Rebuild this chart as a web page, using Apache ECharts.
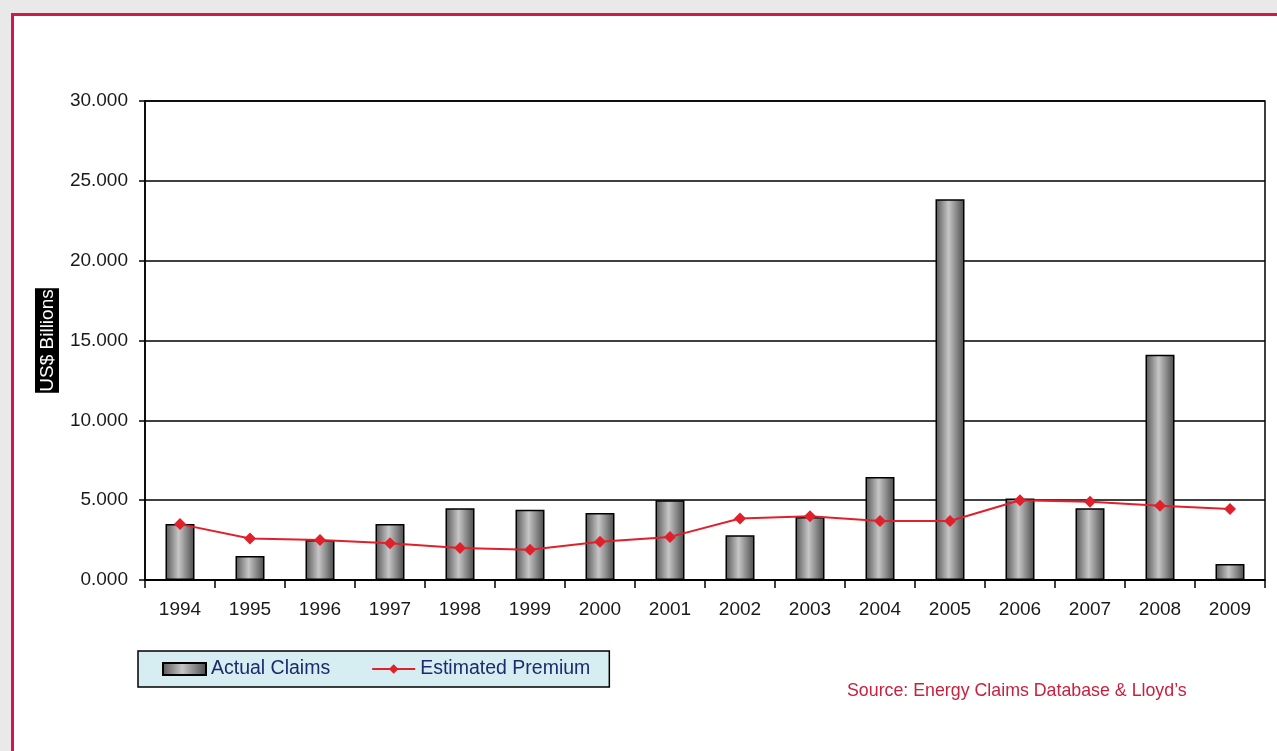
<!DOCTYPE html>
<html>
<head>
<meta charset="utf-8">
<style>
html,body{margin:0;padding:0;background:#e9e9e9;}
#chart{width:1277px;height:751px;}
</style>
<script src="https://cdn.jsdelivr.net/npm/echarts@6/dist/echarts.min.js"></script>
</head>
<body>
<div id="chart"></div>
<script>
const categories = ['1994','1995','1996','1997','1998','1999','2000','2001','2002','2003','2004','2005','2006','2007','2008','2009'];
const actualClaims = [3.5, 1.5, 2.5, 3.5, 4.5, 4.4, 4.2, 5.0, 2.8, 3.95, 6.45, 23.85, 5.1, 4.5, 14.1, 1.0];
const estimatedPremium = [3.5, 2.6, 2.5, 2.3, 2.0, 1.9, 2.4, 2.7, 3.85, 4.0, 3.7, 3.7, 5.0, 4.9, 4.65, 4.45];
const yTicks = { min: 0, max: 30, interval: 5 };

const chart = echarts.init(document.getElementById('chart'), null, {renderer: 'canvas'});
const font = '"Liberation Sans", Arial, sans-serif';
chart.setOption({
  backgroundColor: '#e9e9e9',
  animation: false,
  graphic: [
    { type: 'rect', z: -10, silent: true,
      shape: { x: 12.5, y: 14.5, width: 1300, height: 800 },
      style: { fill: '#ffffff', stroke: '#d4164a', lineWidth: 3 } },
    { type: 'text', left: 847, top: 682, z: 10,
      style: { text: 'Source: Energy Claims Database & Lloyd\u2019s', fill: '#c8203f',
               font: '17.8px ' + font } }
  ],
  grid: { left: 145, right: 12, top: 101, bottom: 171, show: true,
          backgroundColor: '#ffffff', borderColor: '#000', borderWidth: 1.5 },
  legend: {
    left: 138, top: 651,
    backgroundColor: '#d6eef2', borderColor: '#000', borderWidth: 1.5,
    padding: [8, 19, 8, 24],
    itemWidth: 43, itemHeight: 12, itemGap: 41,
    textStyle: { color: '#1d2a6b', fontSize: 19.5, fontFamily: font },
    data: [{ name: 'Actual Claims', icon: 'rect' }, 'Estimated Premium']
  },
  xAxis: {
    type: 'category', data: categories, boundaryGap: true,
    axisLine: { lineStyle: { color: '#000', width: 1.5 } },
    axisTick: { show: true, interval: 0, length: 8, lineStyle: { color: '#000', width: 1.5 } },
    axisLabel: { color: '#1a1a1a', fontSize: 19, fontFamily: font, margin: 20, interval: 0 }
  },
  yAxis: {
    type: 'value', min: yTicks.min, max: yTicks.max, interval: yTicks.interval,
    name: 'US$ Billions', nameLocation: 'middle', nameGap: 86, nameRotate: 90,
    nameTextStyle: { color: '#fff', backgroundColor: '#000', fontSize: 19, fontFamily: font, padding: [3, 1, 2, 1] },
    axisLine: { show: true, lineStyle: { color: '#000', width: 1.5 } },
    axisTick: { show: true, length: 6, lineStyle: { color: '#000', width: 1.5 } },
    axisLabel: { color: '#1a1a1a', fontSize: 19, fontFamily: font, margin: 17,
                 formatter: v => v.toFixed(3) },
    splitLine: { show: true, lineStyle: { color: '#000', width: 1.5 } }
  },
  series: [
    {
      name: 'Actual Claims', type: 'bar', data: actualClaims, barWidth: 29,
      itemStyle: {
        color: new echarts.graphic.LinearGradient(0, 0, 1, 0, [
          { offset: 0, color: '#555555' },
          { offset: 0.45, color: '#c6c6c6' },
          { offset: 1, color: '#4a4a4a' }
        ]),
        borderColor: '#000', borderWidth: 1.5
      }
    },
    {
      name: 'Estimated Premium', type: 'line', data: estimatedPremium,
      symbol: 'diamond', symbolSize: 12, z: 5,
      lineStyle: { color: '#e0202a', width: 2 },
      itemStyle: { color: '#e0202a' }
    }
  ]
});
</script>
</body>
</html>
